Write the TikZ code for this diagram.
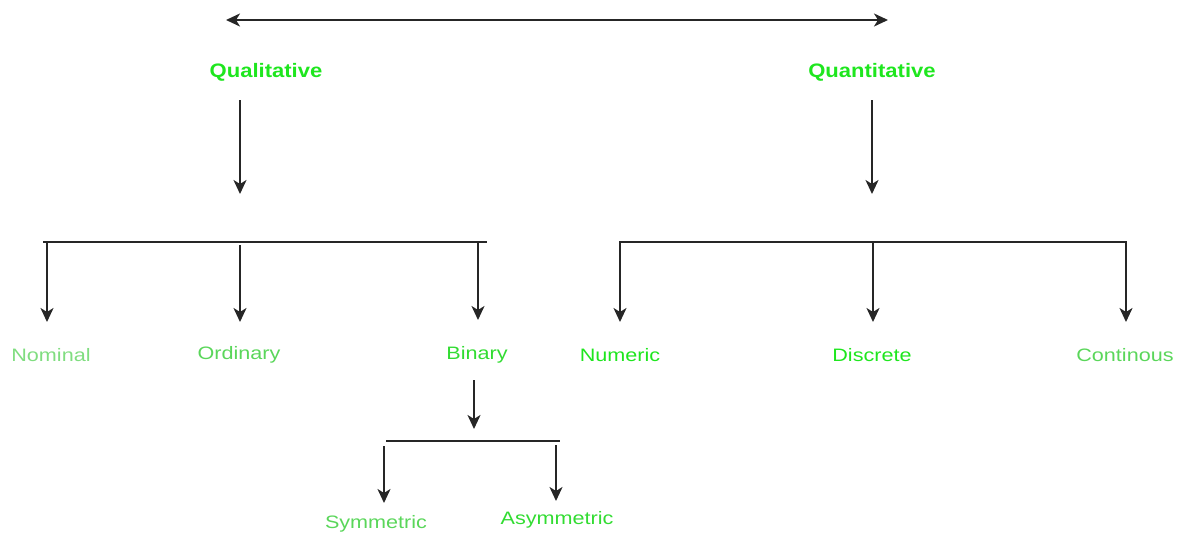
\documentclass[tikz,border=0pt]{standalone}
\usepackage{fontspec}
\setmainfont{Liberation Sans}
\usetikzlibrary{arrows.meta}
\definecolor{gbold}{RGB}{30,230,30}
\definecolor{glight}{RGB}{128,221,128}
\definecolor{gmid}{RGB}{90,214,90}
\definecolor{gstrong}{RGB}{50,220,50}
\tikzset{
  lbl/.style={inner sep=0pt, font=\fontsize{18}{21}\selectfont},
  tip/.tip={Stealth[length=14pt,width=13pt,inset=4pt]},
  conn/.style={line width=1.9pt, black!85, -tip},
  bar/.style={line width=1.9pt, black!85},
}
\newcommand{\wide}[1]{\scalebox{1.2}[1]{#1}}
\newcommand{\wideb}[1]{\scalebox{1.13}[1]{#1}}
\begin{document}
\begin{tikzpicture}[x=1pt,y=-1pt]
\useasboundingbox (0,0) rectangle (1181,535);
% top double arrow
\coordinate (tl) at (226,20);
\coordinate (tr) at (888,20);
\draw[line width=1.9pt, black!85, tip-tip] (tl) -- (tr);
% main labels
\node[lbl, text=gbold, font=\fontsize{19.5}{22}\selectfont\bfseries] (qual) at (266,72) {\wideb{Qualitative}};
\node[lbl, text=gbold, font=\fontsize{19.5}{22}\selectfont\bfseries] (quan) at (872,72) {\wideb{Quantitative}};
% arrows down to bars
\coordinate (qa1) at (240,100); \coordinate (qa2) at (240,194);
\draw[conn] (qa1) -- (qa2);
\coordinate (na1) at (872,100); \coordinate (na2) at (872,194);
\draw[conn] (na1) -- (na2);
% left bar
\coordinate (lb1) at (43,242); \coordinate (lb2) at (487,242);
\draw[bar] (lb1) -- (lb2);
\coordinate (ld1) at (47,242); \coordinate (ld1e) at (47,322);
\coordinate (ld2) at (240,245); \coordinate (ld2e) at (240,322);
\coordinate (ld3) at (478,242); \coordinate (ld3e) at (478,320);
\draw[conn] (ld1) -- (ld1e);
\draw[conn] (ld2) -- (ld2e);
\draw[conn] (ld3) -- (ld3e);
% right bar
\coordinate (rb1) at (619,242); \coordinate (rb2) at (1127,242);
\draw[bar] (rb1) -- (rb2);
\coordinate (rd1) at (620,242); \coordinate (rd1e) at (620,322);
\coordinate (rd2) at (873,242); \coordinate (rd2e) at (873,322);
\coordinate (rd3) at (1126,242); \coordinate (rd3e) at (1126,322);
\draw[conn] (rd1) -- (rd1e);
\draw[conn] (rd2) -- (rd2e);
\draw[conn] (rd3) -- (rd3e);
% second-level labels
\node[lbl, text=glight] (nom) at (51,355) {\wide{Nominal}};
\node[lbl, text=gmid] (ord) at (239,355) {\wide{Ordinary}};
\node[lbl, text=gstrong] (bin) at (477,355) {\wide{Binary}};
\node[lbl, text=gbold] (num) at (620,355) {\wide{Numeric}};
\node[lbl, text=gbold] (dis) at (872,355) {\wide{Discrete}};
\node[lbl, text=gmid] (con) at (1125,355) {\wide{Continous}};
% binary subtree
\coordinate (ba1) at (474,380); \coordinate (ba2) at (474,429);
\draw[conn] (ba1) -- (ba2);
\coordinate (bb1) at (386,441); \coordinate (bb2) at (560,441);
\draw[bar] (bb1) -- (bb2);
\coordinate (bd1) at (384,446); \coordinate (bd1e) at (384,503);
\coordinate (bd2) at (556,445); \coordinate (bd2e) at (556,501);
\draw[conn] (bd1) -- (bd1e);
\draw[conn] (bd2) -- (bd2e);
\node[lbl, text=gmid] (sym) at (376,524) {\wide{Symmetric}};
\node[lbl, text=gstrong] (asym) at (557,520) {\wide{Asymmetric}};
\end{tikzpicture}
\end{document}
